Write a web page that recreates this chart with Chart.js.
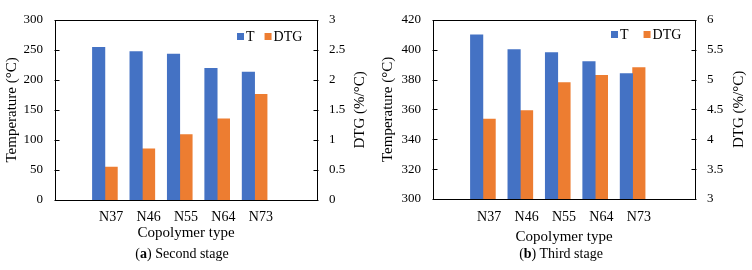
<!DOCTYPE html>
<html lang="en">
  <head>
    <meta charset="UTF-8" />
    <title>Copolymer T and DTG</title>
    <script src="https://cdn.jsdelivr.net/npm/chart.js"></script>
    <style>
      * {
        margin: 0;
        padding: 0;
        box-sizing: border-box;
      }
      body {
        width: 752px;
        height: 270px;
        background: #ffffff;
        font-family: "Liberation Serif", "Times New Roman", serif;
        color: #000000;
        overflow: hidden;
        position: relative;
      }
      .panel {
        position: absolute;
        top: 0;
        width: 376px;
        height: 270px;
      }
      .panel canvas {
        position: absolute;
        left: 0;
        top: 0;
      }
      .caption {
        position: absolute;
        top: 246px;
        width: 200px;
        line-height: 16px;
        text-align: center;
        font-size: 14px;
        white-space: nowrap;
      }
    </style>
  </head>
  <body>
    <div class="panel" style="left: 0">
      <canvas id="chartA" width="376" height="250"></canvas>
      <div class="caption" style="left: 82px">(<b>a</b>) Second stage</div>
    </div>
    <div class="panel" style="left: 376px">
      <canvas id="chartB" width="376" height="250"></canvas>
      <div class="caption" style="left: 85px">(<b>b</b>) Third stage</div>
    </div>

    <script>
      const categories = ["N37", "N46", "N55", "N64", "N73"];

      // (a) second stage
      const tempSecond = [254, 247, 243, 219, 213];
      const dtgSecond = [0.55, 0.85, 1.09, 1.35, 1.76];
      const tempTicksSecond = [0, 300, 50];
      const dtgTicksSecond = [0, 3, 0.5];

      // (b) third stage
      const tempThird = [410, 400, 398, 392, 384];
      const dtgThird = [4.34, 4.48, 4.95, 5.07, 5.2];
      const tempTicksThird = [300, 420, 20];
      const dtgTicksThird = [3, 6, 0.5];

      const BLUE = "#4472C4";
      const ORANGE = "#ED7D31";
      const SERIF = "'Liberation Serif', 'Times New Roman', serif";

      // empty slot before and after the groups, like the Excel original
      const pad = (arr, fill) => [fill, ...arr, fill];

      // box round the plot, inward tick marks, right title and legend
      const framePlugin = {
        id: "frame",
        afterDraw(chart, args, opts) {
          const { ctx, chartArea: a, scales } = chart;
          ctx.save();
          ctx.strokeStyle = "#000";
          ctx.lineWidth = 1;
          const l = Math.round(a.left) + 0.5;
          const r = Math.round(a.right) + 0.5;
          const t = Math.round(a.top) + 0.5;
          const b = Math.round(a.bottom) + 0.5;
          ctx.strokeRect(l, t, r - l, b - t);

          [["y", l, 1], ["y1", r, -1]].forEach(([id, x, dir]) => {
            const s = scales[id];
            s.ticks.forEach((tk, i) => {
              const py = Math.round(s.getPixelForTick(i)) + 0.5;
              ctx.beginPath();
              ctx.moveTo(x - dir, py);
              ctx.lineTo(x + dir * 4, py);
              ctx.stroke();
            });
          });

          // right axis title reads bottom to top
          ctx.fillStyle = "#000";
          ctx.font = "15px " + SERIF;
          ctx.textAlign = "center";
          ctx.textBaseline = "middle";
          ctx.save();
          ctx.translate(opts.titleX, (a.top + a.bottom) / 2);
          ctx.rotate(-Math.PI / 2);
          ctx.fillText(opts.rightTitle, 0, 0);
          ctx.restore();

          // legend
          ctx.font = "14px " + SERIF;
          ctx.textAlign = "left";
          let x = opts.legendX;
          const y = opts.legendY;
          chart.data.datasets
            .filter((d) => d.label)
            .forEach((d) => {
              ctx.fillStyle = d.backgroundColor;
              ctx.fillRect(x, y - 3, 7, 7);
              ctx.fillStyle = "#000";
              ctx.fillText(d.label, x + 9, y + 1);
              x += 9 + ctx.measureText(d.label).width + opts.legendGap;
            });
          ctx.restore();
        },
      };

      const plainNumber = (v) => String(+v.toFixed(2));

      function makeChart(id, temp, dtg, tTicks, dTicks, lay) {
        const ctx = document.getElementById(id).getContext("2d");
        return new Chart(ctx, {
          type: "bar",
          data: {
            labels: pad(categories, ""),
            datasets: [
              {
                label: "T",
                data: pad(temp, null),
                backgroundColor: BLUE,
                yAxisID: "y",
              },
              {
                label: "DTG",
                data: pad(dtg, null),
                backgroundColor: ORANGE,
                yAxisID: "y1",
              },
              // empty third slot in each group
              { label: "", data: [], backgroundColor: "rgba(0,0,0,0)", yAxisID: "y" },
            ],
          },
          options: {
            responsive: false,
            animation: false,
            layout: { padding: { top: lay.top, left: 0, right: 0, bottom: 0 } },
            datasets: {
              bar: { barPercentage: 1, categoryPercentage: 1 },
            },
            plugins: {
              legend: { display: false },
              tooltip: { enabled: false },
              frame: lay.frame,
            },
            scales: {
              x: {
                grid: { display: false, drawTicks: false },
                border: { display: false },
                ticks: {
                  color: "#000",
                  font: { family: SERIF, size: 14 },
                  padding: lay.xTickPad,
                  maxRotation: 0,
                  autoSkip: false,
                },
                title: {
                  display: true,
                  text: "Copolymer type",
                  color: "#000",
                  font: { family: SERIF, size: 15 },
                  padding: { top: 0, bottom: lay.xTitlePad },
                },
                afterFit: (s) => {
                  s.height = lay.xHeight;
                },
              },
              y: {
                position: "left",
                min: tTicks[0],
                max: tTicks[1],
                grid: { display: false, drawTicks: false },
                border: { display: false },
                ticks: {
                  stepSize: tTicks[2],
                  color: "#000",
                  font: { family: SERIF, size: 13 },
                  padding: 12,
                  callback: plainNumber,
                },
                title: {
                  display: true,
                  text: "Temperature (°C)",
                  color: "#000",
                  font: { family: SERIF, size: 15 },
                  padding: { top: 3, bottom: 0 },
                },
                afterFit: (s) => {
                  s.width = lay.leftW;
                },
              },
              y1: {
                position: "right",
                min: dTicks[0],
                max: dTicks[1],
                grid: { display: false, drawTicks: false },
                border: { display: false },
                ticks: {
                  stepSize: dTicks[2],
                  color: "#000",
                  font: { family: SERIF, size: 13 },
                  padding: 12,
                  callback: plainNumber,
                },
                afterFit: (s) => {
                  s.width = lay.rightW;
                },
              },
            },
          },
          plugins: [framePlugin],
        });
      }

      makeChart("chartA", tempSecond, dtgSecond, tempTicksSecond, dtgTicksSecond, {
        top: 10,
        leftW: 55,
        rightW: 59,
        xHeight: 50,
        xTickPad: 9,
        xTitlePad: 8,
        frame: { rightTitle: "DTG (%/°C)", titleX: 360, legendX: 237, legendY: 36, legendGap: 10 },
      });

      makeChart("chartB", tempThird, dtgThird, tempTicksThird, dtgTicksThird, {
        top: 12,
        leftW: 57,
        rightW: 57,
        xHeight: 51,
        xTickPad: 10,
        xTitlePad: 4,
        frame: { rightTitle: "DTG (%/°C)", titleX: 363, legendX: 235, legendY: 34, legendGap: 15 },
      });
    </script>
  </body>
</html>
